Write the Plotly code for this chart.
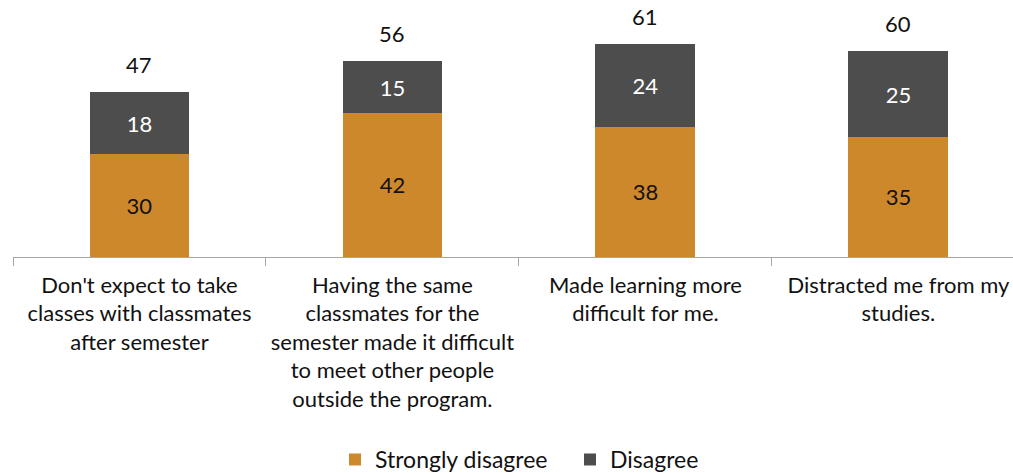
import plotly.graph_objects as go

categories = [
    "Don't expect to take<br>classes with classmates<br>after semester",
    "Having the same<br>classmates for the<br>semester made it difficult<br>to meet other people<br>outside the program.",
    "Made learning more<br>difficult for me.",
    "Distracted me from my<br>studies.",
]
strongly_disagree = [30, 42, 38, 35]
disagree = [18, 15, 24, 25]
totals = [47, 56, 61, 60]

ORANGE = "#CD882C"
GRAY = "#4D4D4D"
FONT = "Lato, 'Open Sans', sans-serif"

fig = go.Figure()
fig.add_trace(go.Bar(
    x=categories, y=strongly_disagree, name="Strongly disagree",
    marker=dict(color=ORANGE, line=dict(width=0)),
    text=strongly_disagree, textposition="inside", insidetextanchor="middle",
    textfont=dict(color="#111111", size=22, family=FONT),
    width=0.395,
))
fig.add_trace(go.Bar(
    x=categories, y=disagree, name="Disagree",
    marker=dict(color=GRAY, line=dict(width=0)),
    text=disagree, textposition="inside", insidetextanchor="middle",
    textfont=dict(color="white", size=22, family=FONT),
    width=0.395,
))

# total labels above each stack
for c, s, d, t in zip(categories, strongly_disagree, disagree, totals):
    fig.add_annotation(
        x=c, y=s + d, text=str(t),
        showarrow=False, yanchor="bottom", yshift=12,
        font=dict(size=22, color="#111111", family=FONT),
    )

fig.update_layout(
    barmode="stack",
    width=1013, height=473,
    margin=dict(l=13, r=0, t=10, b=216, autoexpand=False),
    plot_bgcolor="white", paper_bgcolor="white",
    font=dict(family=FONT, size=22, color="#111111"),
    legend=dict(
        orientation="h", x=0.322, xanchor="left", y=-0.82, yanchor="middle",
        font=dict(size=23, family=FONT, color="#111111"), itemsizing="constant",
        traceorder="normal", entrywidth=190, entrywidthmode="pixels",
    ),
    xaxis=dict(
        type="category", categoryorder="array", categoryarray=categories,
        range=[-0.5, 3.453], showline=True, linecolor="#A6A6A6", linewidth=1.3,
        ticks="outside", tickson="boundaries", ticklen=8, tickcolor="#A6A6A6",
        tickwidth=1.3, showgrid=False, zeroline=False, automargin=False,
        ticklabelstandoff=8,
        tickfont=dict(size=22, family=FONT, color="#111111"),
    ),
    yaxis=dict(
        range=[0, 247 / 3.43], visible=False, showgrid=False, zeroline=False,
    ),
)

fig.write_html("out.html")
